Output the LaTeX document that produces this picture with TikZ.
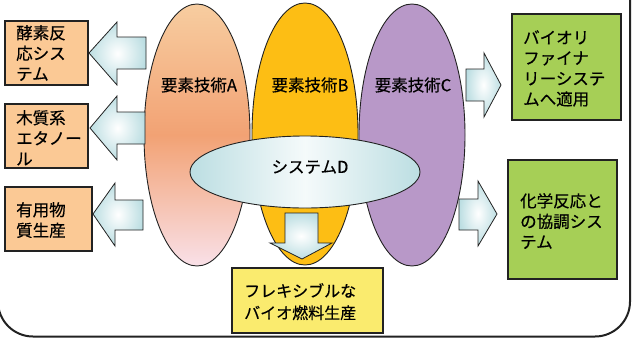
\documentclass[tikz,border=0pt]{standalone}
\usepackage{fontspec}
\setmainfont{Noto Sans CJK JP}[FakeBold=0.4]
\usetikzlibrary{shapes.geometric}
\definecolor{peach}{HTML}{FBC995}
\definecolor{leaf}{HTML}{A6CF56}
\definecolor{lemon}{HTML}{FAEB6E}
\definecolor{gold}{HTML}{FDBE14}
\definecolor{lilac}{HTML}{B898C8}
\definecolor{aqua}{HTML}{BCDEE2}
\definecolor{salmonTop}{HTML}{F7CDA0}
\definecolor{salmonMid}{HTML}{F2A274}
\definecolor{salmonBot}{HTML}{F9E0E8}
\definecolor{ink}{HTML}{222222}
\tikzset{
  jp/.style={font=\fontsize{16.5}{20.5}\selectfont, text=black},
  boxtext/.style={jp, anchor=north west, align=left, inner sep=0pt},
  card/.style={draw=ink, line width=1.2pt},
  tech/.style={ellipse, draw=ink, line width=0.9pt, inner sep=0pt, minimum width=106pt, minimum height=262pt},
  blockarrow/.style={draw=ink, line width=0.8pt, inner color=white, outer color=aqua},
}
\begin{document}
\begin{tikzpicture}[x=1pt,y=-1pt]
\useasboundingbox (0,0) rectangle (636,338);
% outer frame
\draw[ink, line width=2pt, rounded corners=35pt] (-2,-60) rectangle (630,336.5);

% technology ellipses
\node[tech, top color=salmonTop, bottom color=salmonBot, middle color=salmonMid] (A) at (197,135) {};
\node[tech, fill=gold] (B) at (305,134) {};
\node[tech, fill=lilac] (C) at (412,135) {};
\node[jp] (la) at (199,85) {要素技術A};
\node[jp] (lb) at (310,85) {要素技術B};
\node[jp] (lc) at (413,85) {要素技術C};

% left boxes
\draw[card, fill=peach] (5,21) rectangle (88,85);
\node[boxtext] (t1) at (16,25) {酵素反\\応シス\\テム};
\draw[card, fill=peach] (5,104) rectangle (88,168);
\node[boxtext] (t2) at (16,110) {木質系\\エタノー\\ル};
\draw[card, fill=peach] (5,187) rectangle (92,251);
\node[boxtext] (t3) at (16,202) {有用物\\質生産};

% right boxes
\draw[card, fill=leaf] (512,14) rectangle (621,120);
\node[boxtext] (t4) at (523,30) {バイオリ\\ファイナ\\リーシステ\\ムへ適用};
\draw[card, fill=leaf] (508,160) rectangle (617,279);
\node[boxtext] (t5) at (520,193) {化学反応と\\の協調シス\\テム};

% left arrows
\path[blockarrow] (89,53) -- (117,22) -- (117,37) -- (146,37) -- (146,69) -- (117,69) -- (117,85) -- cycle;
\path[blockarrow] (90,128) -- (117,96) -- (117,112) -- (145,112) -- (145,144) -- (117,144) -- (117,160) -- cycle;
\path[blockarrow] (93,214) -- (115,183) -- (115,200) -- (143,200) -- (143,230) -- (115,230) -- (115,246) -- cycle;

% right arrows
\path[blockarrow] (501,85) -- (484,53) -- (484,69) -- (466,69) -- (466,101) -- (484,101) -- (484,117) -- cycle;
\path[blockarrow] (497,214) -- (478,181) -- (478,199) -- (459,199) -- (459,230) -- (478,230) -- (478,246) -- cycle;

% system D
\node[ellipse, draw=ink, line width=0.9pt, inner sep=0pt, minimum width=230pt, minimum height=72pt,
      left color=aqua, right color=aqua, middle color=white!85!aqua] (D) at (305,172) {};
\node[jp] (ld) at (310,167) {システムD};

% down arrow
\path[blockarrow] (302,259) -- (270,243) -- (285,243) -- (285,213) -- (318,213) -- (318,243) -- (332,243) -- cycle;

% yellow box
\draw[card, fill=lemon] (232,268) rectangle (383,333);
\node[boxtext, font=\fontsize{16}{22}\selectfont] (t6) at (244,283) {フレキシブルな\\バイオ燃料生産};
\end{tikzpicture}
\end{document}
